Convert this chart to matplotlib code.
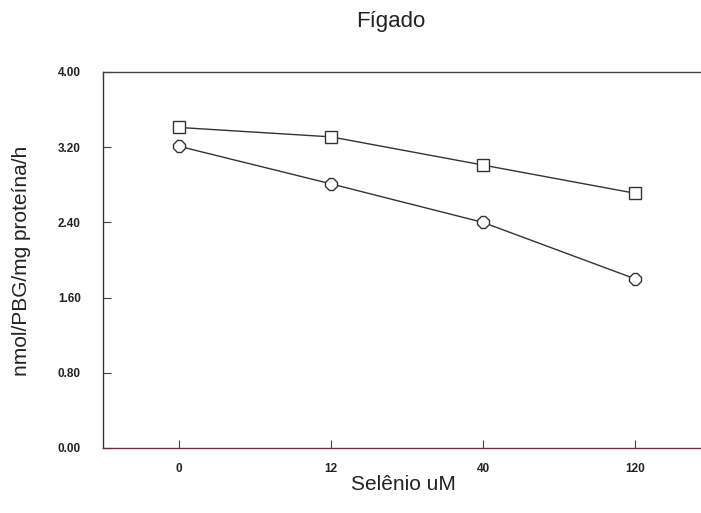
import matplotlib.pyplot as plt

# dados
selenio = ['0', '12', '40', '120']
quadrado = [3.41, 3.31, 3.01, 2.71]
circulo = [3.21, 2.81, 2.40, 1.80]
yticks = [0.0, 0.8, 1.6, 2.4, 3.2, 4.0]

plt.rcParams['font.family'] = ['Liberation Sans', 'DejaVu Sans']

fig = plt.figure(figsize=(7.01, 5.13), dpi=100)
ax = fig.add_axes([103/701, 65/513, 608/701, 376/513])

x = range(len(selenio))
ax.plot(x, quadrado, color='#333333', lw=1.0, marker='s', ms=8.5,
        mfc='white', mec='#333333', mew=1.0)
ax.plot(x, circulo, color='#333333', lw=1.0, marker='8', ms=9,
        mfc='white', mec='#333333', mew=1.0)

ax.set_xlim(-0.5, 3.5)
ax.set_ylim(0, 4.0)
ax.set_xticks(list(x))
ax.set_xticklabels(selenio)
ax.set_yticks(yticks)
ax.set_yticklabels(['%.2f' % v for v in yticks])
ax.tick_params(direction='in', length=6, width=0.8, colors='#444444',
               labelsize=8.5, labelcolor='#222222')
ax.tick_params(axis='x', pad=11)
ax.tick_params(axis='y', pad=16)
for t in ax.get_xticklabels() + ax.get_yticklabels():
    t.set_fontweight('bold')

ax.spines['right'].set_visible(False)
ax.spines['left'].set_color('#333333')
ax.spines['top'].set_color('#444444')
ax.spines['bottom'].set_color('#6b3040')
for s in ax.spines.values():
    s.set_linewidth(1.0)

fig.text(391/701, 1 - 22/513, 'Fígado', ha='center', va='center',
         fontsize=16, color='#222222')
fig.text(403/701, 1 - 484/513, 'Selênio uM', ha='center', va='center',
         fontsize=15, color='#222222')
fig.text(22/701, 1 - 261/513, 'nmol/PBG/mg proteína/h', ha='center',
         va='center', rotation=90, fontsize=15, color='#222222')

fig.savefig('out.png', dpi=100)
